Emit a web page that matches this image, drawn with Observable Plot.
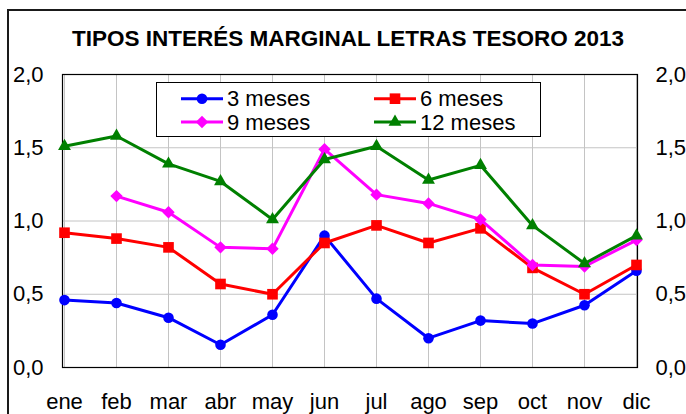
<!DOCTYPE html>
<html>
<head>
<meta charset="utf-8">
<script src="https://cdn.jsdelivr.net/npm/d3@7"></script>
<script src="https://cdn.jsdelivr.net/npm/@observablehq/plot@0.6"></script>
<style>
  html, body { margin: 0; padding: 0; background: white; }
  #wrap { position: relative; width: 686px; height: 414px; overflow: hidden; font-family: "Liberation Sans", Arial, sans-serif; }
  #border { position: absolute; left: 7px; top: 9px; width: 800px; height: 600px; border: 2px solid #1a1a1a; pointer-events: none; z-index: 3; }
  #title { position: absolute; left: 5px; width: 686px; top: 28px; text-align: center; font-weight: bold; font-size: 22.5px; line-height: 22px; z-index: 2; }
  #legend { position: absolute; left: 156px; top: 82px; z-index: 2; }
</style>
</head>
<body>
<div id="wrap">
  <div id="border"></div>
  <div id="title">TIPOS INTERÉS MARGINAL LETRAS TESORO 2013</div>
  <div id="chart"></div>
  <div id="legend"></div>
</div>
<script>
const months = ["ene","feb","mar","abr","may","jun","jul","ago","sep","oct","nov","dic"];
const seriesNames = ["3 meses","6 meses","9 meses","12 meses"];
const seriesColors = ["#0000ff","#ff0000","#ff00ff","#008000"];
const seriesSymbols = ["circle","square","diamond2","triangle"];
const seriesR = [5.3, 6.0, 5.6, 4.8];
const m3  = [0.46, 0.44, 0.34, 0.155, 0.36, 0.90, 0.47, 0.20, 0.32, 0.30, 0.425, 0.66];
const m6  = [0.92, 0.88, 0.82, 0.57, 0.50, 0.85, 0.97, 0.85, 0.95, 0.68, 0.50, 0.70];
const m9  = [null, 1.17, 1.06, 0.82, 0.81, 1.49, 1.18, 1.12, 1.01, 0.70, 0.69, 0.87];
const m12 = [1.51, 1.58, 1.39, 1.27, 1.01, 1.42, 1.51, 1.28, 1.38, 0.97, 0.71, 0.90];
const yTicks = [0, 0.5, 1, 1.5, 2];

const seriesValues = [m3, m6, m9, m12];
const fmt = d => d3.format(".1f")(d).replace(".", ",");

const marks = [
  Plot.gridX(months, {stroke: "#c4c4c4", strokeOpacity: 1, strokeWidth: 1}),
  Plot.gridY([0.5, 1, 1.5], {stroke: "#c4c4c4", strokeOpacity: 1, strokeWidth: 1}),
  Plot.frame({stroke: "black", strokeWidth: 1.2}),
  Plot.axisY(yTicks, {anchor: "left", tickSize: 0, tickPadding: 19, tickFormat: fmt}),
  Plot.axisY(yTicks, {anchor: "right", tickSize: 0, tickPadding: 18, tickFormat: fmt}),
  Plot.axisX(months, {anchor: "bottom", tickSize: 0, tickPadding: 26})
];
seriesValues.forEach((vals, i) => {
  const data = months.map((m, j) => ({month: m, value: vals[j]})).filter(d => d.value != null);
  marks.push(Plot.line(data, {x: "month", y: "value", stroke: seriesColors[i], strokeWidth: 3}));
  marks.push(Plot.dot(data, {x: "month", y: "value", fill: seriesColors[i], stroke: "none", symbol: seriesSymbols[i], r: seriesR[i]}));
});

const chart = Plot.plot({
  width: 686,
  height: 414,
  marginLeft: 62,
  marginRight: 49,
  marginTop: 74,
  marginBottom: 47,
  style: {fontSize: "22px", fontFamily: "'Liberation Sans', Arial, sans-serif", color: "black", background: "white"},
  x: {type: "point", domain: months, padding: 0, label: null, axis: null},
  y: {domain: [0, 2], label: null, axis: null},
  marks
});
document.getElementById("chart").appendChild(chart);

// legend
const lw = 385, lh = 55;
const leg = d3.select("#legend").append("svg").attr("width", lw).attr("height", lh)
  .style("font-family", "'Liberation Sans', Arial, sans-serif").style("font-size", "22px");
leg.append("rect").attr("x", 0.5).attr("y", 0.5).attr("width", lw - 1).attr("height", lh - 1)
  .attr("fill", "white").attr("stroke", "black").attr("stroke-width", 1);
const pos = [[25, 16.7], [218, 16.7], [25, 40], [218, 40]];
const symMap = {circle: d3.symbolCircle, square: d3.symbolSquare, diamond2: d3.symbolDiamond2, triangle: d3.symbolTriangle};
seriesNames.forEach((name, i) => {
  const [px, py] = pos[i];
  const g = leg.append("g");
  g.append("line").attr("x1", px).attr("x2", px + 42).attr("y1", py).attr("y2", py)
    .attr("stroke", seriesColors[i]).attr("stroke-width", 3);
  g.append("path").attr("transform", `translate(${px + 21},${py})`)
    .attr("d", d3.symbol(symMap[seriesSymbols[i]], seriesR[i] * seriesR[i] * Math.PI)())
    .attr("fill", seriesColors[i]);
  g.append("text").attr("x", px + 46).attr("y", py).attr("dy", "0.35em").text(name);
});
</script>
</body>
</html>
